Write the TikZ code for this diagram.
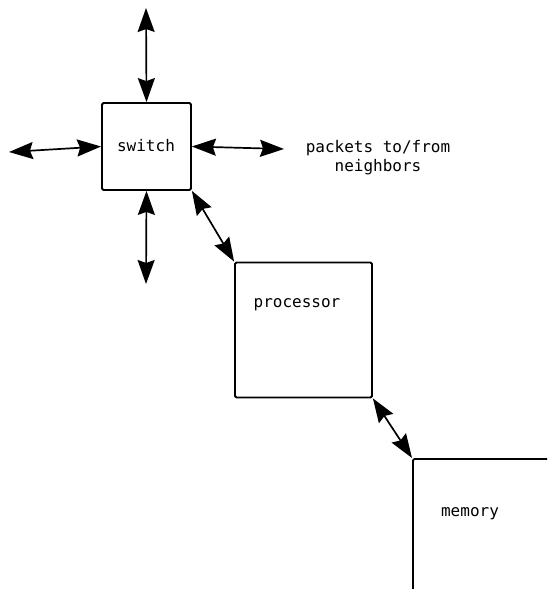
\documentclass[tikz,border=0pt]{standalone}
\usepackage{fontspec}
\setmonofont{DejaVu Sans Mono}
\usetikzlibrary{arrows.meta}
\tikzset{
  box/.style={draw, line width=1.8pt, rounded corners=1.5pt, inner sep=0pt},
  lbl/.style={font=\ttfamily\fontsize{16}{19}\selectfont, inner sep=0pt, text=black},
  tip/.tip={Stealth[length=24pt 0 0,width=17pt 0,inset=3pt 0]},
  link/.style={line width=1.7pt, tip-tip}
}
\begin{document}
\begin{tikzpicture}[x=1pt,y=-1pt]
\useasboundingbox (0,0) rectangle (547,589);
\clip (0,0) rectangle (547,589);
% boxes
\node[box, minimum width=89pt, minimum height=87pt] (switch) at (146.5,146.5) {};
\node[box, minimum width=137pt, minimum height=135pt] (proc) at (303.5,330) {};
\node[box, minimum width=160pt, minimum height=160pt, anchor=north west] (mem) at (412,458) {};
% labels
\node[lbl] (tsw) at (146,146) {switch};
\node[lbl] (tpr) at (297,305) {processor};
\node[lbl] (tme) at (470,514) {memory};
\node[lbl, align=center] (tpk) at (378,158) {packets to/from\\neighbors};
% free ends
\coordinate (top) at (146,8);
\coordinate (left) at (9,152);
\coordinate (right) at (284,149);
\coordinate (bot) at (146,284);
% connectors
\draw[link] (top) -- (switch.north);
\draw[link] (left) -- (switch.west);
\draw[link] (switch.east) -- (right);
\draw[link] (switch.south) -- (bot);
\draw[link] (switch.south east) -- (proc.north west);
\draw[link] (proc.south east) -- (mem.north west);
\end{tikzpicture}
\end{document}
